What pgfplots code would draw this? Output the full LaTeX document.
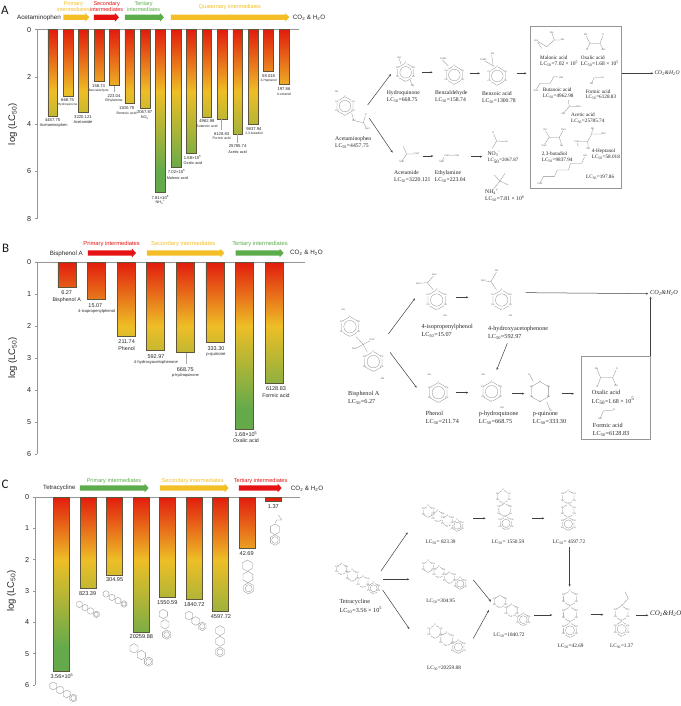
\documentclass[border=0pt]{standalone}
\usepackage{fontspec}
\usepackage{pgfplots}
\pgfplotsset{compat=1.18}
\usetikzlibrary{arrows.meta}
\setmainfont{Liberation Sans}
\newfontfamily\tm{Liberation Serif}
\newfontfamily\cb{Carlito}
\definecolor{barR}{RGB}{226,28,14}
\definecolor{barY}{RGB}{238,190,38}
\definecolor{barG}{RGB}{100,170,75}
\definecolor{barEdge}{RGB}{95,85,60}
\definecolor{arrY}{RGB}{243,190,38}
\definecolor{arrR}{RGB}{228,18,18}
\definecolor{arrG}{RGB}{92,172,76}
\definecolor{axg}{RGB}{150,150,150}
\definecolor{molg}{RGB}{140,140,140}
\newcommand\fs[1]{\fontsize{#1}{#1}\selectfont}
% gradient that depends on the value: red at 0, yellow at \vy, green at \vg
\newcommand\barshade[2]{%
  \pgfmathsetmacro\bpY{75-50*\vy/#2}%
  \pgfmathsetmacro\bpG{75-50*\vg/#2}%
  \ifdim#2pt<\vy pt
    \pgfmathsetmacro\bt{100*#2/\vy}%
    \edef\tmpS{\noexpand\pgfdeclareverticalshading{bar#1}{100bp}{color(0bp)=(barY!\bt!barR);color(25bp)=(barY!\bt!barR);color(75bp)=(barR);color(100bp)=(barR)}}%
  \else\ifdim#2pt<\vg pt
    \pgfmathsetmacro\bt{100*(#2-\vy)/(\vg-\vy)}%
    \edef\tmpS{\noexpand\pgfdeclareverticalshading{bar#1}{100bp}{color(0bp)=(barG!\bt!barY);color(25bp)=(barG!\bt!barY);color(\bpY bp)=(barY);color(75bp)=(barR);color(100bp)=(barR)}}%
  \else
    \edef\tmpS{\noexpand\pgfdeclareverticalshading{bar#1}{100bp}{color(0bp)=(barG);color(25bp)=(barG);color(\bpG bp)=(barG);color(\bpY bp)=(barY);color(75bp)=(barR);color(100bp)=(barR)}}%
  \fi\fi
  \tmpS}
\newcommand\pbar[3]{\barshade{#1#2}{#3}\addplot[ybar,bar shift=0pt,draw=barEdge,line width=.65pt,shade,shading=bar#1#2] coordinates {(#2,#3)};}
\pgfplotsset{lcax/.style={
  scale only axis, anchor=north west, clip=false,
  y dir=reverse, ymin=0,
  axis x line*=top, axis y line*=left,
  x axis line style={-,axg,line width=.9pt},
  y axis line style={-,axg,line width=.9pt},
  xtick=\empty, tick align=outside, major tick length=2.6pt,
  tick style={axg,line width=.7pt},
  /pgf/number format/assume math mode=true,
  yticklabel style={font=\fs{7.2},text=black!85},
  ylabel style={font=\fs{9.5},text=black!85,anchor=center},
  ylabel={log (LC\textsubscript{50})},
}}
% text in zoom coordinates
\newcommand\tx[5]{\node[anchor=#3,inner sep=0pt,text=black!85,font=\fs{#4}] at (#1,#2) {#5};}
\newcommand\tr[5]{\node[anchor=#3,inner sep=0pt,text=black!85,font=\tm\fs{#4}] at (#1,#2) {#5};}
\newcommand\tn[3]{\node[fill=white,inner sep=.1pt,text=black!70,font=\fs{2.3}] at (#1,#2) {#3};}
\newcommand\lc[1]{LC\textsubscript{50}=#1}
\newcommand\cotwo[4]{\node[anchor=west,inner sep=0pt,text=black!85,font=\tm\itshape\fs{#3}] at (#1,#2) {CO\textsubscript{2}\&H\textsubscript{2}O};}
\newcommand\barrow[4]{\fill[#4] (#1,#3-8)--(#2-12,#3-8)--(#2-12,#3-13)--(#2,#3)--(#2-12,#3+13)--(#2-12,#3+8)--(#1,#3+8)--cycle;}
\tikzset{mol/.style={draw=molg,line width=.3pt},
  ar/.style={draw=black!75,line width=.5pt,-{Stealth[length=2.4pt,width=2pt]}},
  lead/.style={draw=black!35,line width=.35pt}}
\newcommand\hex[3]{\begin{scope}[shift={(#1,#2)}]\draw[mol] (30:#3)--(90:#3)--(150:#3)--(210:#3)--(270:#3)--(330:#3)--cycle;\end{scope}}
\newcommand\vlabels[3]{\begin{scope}[shift={(#1,#2)}]
 \foreach \a/\t in {30/CH,90/C,150/CH,210/CH,270/C,330/CH}{\node[fill=white,inner sep=.1pt,text=black!70,font=\fs{2.1}] at (\a:#3) {\t};}\end{scope}}
\newcommand\ringc[3]{\hex{#1}{#2}{#3}\begin{scope}[shift={(#1,#2)}]\draw[mol] (0,0) circle (0.62*#3);\end{scope}}
% ring with small atom labels
\newcommand\ringl[3]{\ringc{#1}{#2}{#3}\vlabels{#1}{#2}{#3}}
\newcommand\chain[6]{\foreach \i in {1,...,#5}{\pgfmathsetmacro\cx{#1+(\i-1)*#3}\pgfmathsetmacro\cy{#2+(\i-1)*#4}\hex{\cx}{\cy}{#6}}
 \pgfmathsetmacro\cx{#1+(#5-1)*#3}\pgfmathsetmacro\cy{#2+(#5-1)*#4}\begin{scope}[shift={(\cx,\cy)}]\draw[mol] (0,0) circle (0.62*#6);\end{scope}}
\newcommand\chainl[6]{\chain{#1}{#2}{#3}{#4}{#5}{#6}\foreach \i in {1,...,#5}{\pgfmathsetmacro\cx{#1+(\i-1)*#3}\pgfmathsetmacro\cy{#2+(\i-1)*#4}\vlabels{\cx}{\cy}{#6}}}
\begin{document}
\begin{tikzpicture}
\useasboundingbox (0pt,0pt) rectangle (680pt,-706pt);
%% ============ PANEL A
\def\vy{2.6}\def\vg{6.0}
\begin{axis}[lcax,at={(37.3pt,-29.7pt)},width=261.7pt,height=189pt,ymax=8,xmin=-1,xmax=15.97,
  ytick={0,2,4,6,8},bar width=9.7pt,
  ylabel style={at={(axis description cs:-0.094,0.5)}}]
\pbar{A}{0}{3.649}
\pbar{A}{1}{2.825}
\pbar{A}{2}{3.508}
\pbar{A}{3}{2.201}
\pbar{A}{4}{2.348}
\pbar{A}{5}{3.114}
\pbar{A}{6}{3.316}
\pbar{A}{7}{6.893}
\pbar{A}{8}{5.846}
\pbar{A}{9}{5.225}
\pbar{A}{10}{3.696}
\pbar{A}{11}{3.787}
\pbar{A}{12}{4.411}
\pbar{A}{13}{3.993}
\pbar{A}{14}{1.764}
\pbar{A}{15}{2.296}
\end{axis}
\begin{scope}[x=.3333pt,y=-.3333pt]
\node[anchor=center,inner sep=0pt,text=black!90,font=\cb\fs{13}] at (15,32) {A};
\tx{117}{53}{center}{6.3}{Acetaminophen}
\tx{878}{53}{west}{6.3}{CO\textsubscript{2} \& H\textsubscript{2}O}
\barrow{190}{268}{52}{arrY}
\barrow{282}{357}{52}{arrR}
\barrow{375}{492}{52}{arrG}
\barrow{513}{868}{52}{arrY}
\node[align=center,inner sep=0pt,text=arrY,font=\fs{5.5}] at (220,20) {Primary\\[1pt]intermediates};
\node[align=center,inner sep=0pt,text=arrR,font=\fs{5.5}] at (320,20) {Secondary\\[1pt]intermediates};
\node[align=center,inner sep=0pt,text=arrG,font=\fs{5.5}] at (431,20) {Tertiary\\[1pt]intermediates};
\node[align=center,inner sep=0pt,text=arrY,font=\fs{5.5}] at (690,22) {Quaternary intermediates};
\draw[lead] (342,258)--(342,275);\draw[lead] (665,358)--(665,390);\draw[lead] (713,402)--(713,428);
\tx{158}{360}{center}{4.2}{4457.75}\tx{161}{376}{center}{4}{Acetaminophen}
\tx{203}{301}{center}{4.2}{668.75}\tx{203}{315}{center}{3.1}{Hydroquinone}
\tx{249}{350}{center}{4.2}{3220.121}\tx{249}{367}{center}{4}{Acetamide}
\tx{296}{259}{center}{4.2}{158.74}\tx{296}{272}{center}{3.1}{Benzaldehyde}
\tx{342}{288}{center}{4.2}{223.04}\tx{342}{302}{center}{3.5}{Ethylamine}
\tx{380}{325}{center}{4.2}{1300.78}\tx{380}{340}{center}{3.5}{Benzoic acid}
\tx{434}{336}{center}{4.2}{2067.87}\tx{436}{354}{center}{3.8}{NO\textsubscript{3}\textsuperscript{-}}
\tx{481}{592}{center}{4.2}{7.81×10\textsuperscript{6}}\tx{481}{608}{center}{3.8}{NH\textsubscript{4}\textsuperscript{+}}
\tx{530}{516}{center}{4.2}{7.02×10\textsuperscript{5}}\tx{532}{533}{center}{3.8}{Malonic acid}
\tx{578}{473}{center}{4.2}{1.68×10\textsuperscript{5}}\tx{579}{488}{center}{3.8}{Oxalic acid}
\tx{621}{364}{center}{4.2}{4962.98}\tx{621}{380}{center}{3.5}{Butanoic acid}
\tx{665}{401}{center}{4.2}{6128.83}\tx{665}{416}{center}{3.5}{Formic acid}
\tx{713}{439}{center}{4.2}{25785.74}\tx{713}{455}{center}{3.8}{Acetic acid}
\tx{762}{387}{center}{4.2}{9837.94}\tx{762}{400}{center}{3.3}{2,3-butadiol}
\tx{806}{228}{center}{4.2}{58.018}\tx{806}{242}{center}{3.3}{4-Heptanol}
\tx{852}{266}{center}{4.2}{197.86}\tx{852}{282}{center}{3.5}{4-octanol}
\end{scope}
\begin{scope}[x=.3333pt,y=-.3333pt,xshift=320pt]
\ringl{75}{318}{28}\draw[mol] (95,340)--(102,362)--(130,368)--(137,345) (130,368)--(140,385);
\tn{50}{275}{OH}\tn{102}{362}{NH}\tn{137}{345}{O}\tn{142}{385}{CH3}
\ringl{257}{217}{28}\tn{237}{172}{OH}\tn{278}{258}{OH}\draw[mol] (243,192)--(237,175) (270,240)--(277,255);
\ringl{403}{225}{28}\draw[mol] (385,198)--(365,178);\tn{370}{177}{CH3O}
\ringl{532}{228}{28}\draw[mol] (520,200)--(515,165) (520,198)--(490,180);\tn{518}{160}{OH}\tn{490}{180}{CH3O}
\draw[ar] (143,315)--(213,222);\draw[ar] (148,355)--(218,458);
\draw[ar] (305,217)--(338,217);\draw[ar] (450,220)--(480,220);\draw[ar] (590,220)--(620,220);
\draw[ar] (308,468)--(340,468);\draw[ar] (453,470)--(487,470);
\draw[ar] (903,220)--(1000,220);
\draw[axg,line width=.6pt] (632,80) rectangle (903,565);
\cotwo{1003}{220}{5.6}{}
\tr{45}{418}{west}{5.7}{Acetaminophen}\tr{45}{437}{west}{5.7}{\lc{4457.75}}
\tr{200}{279}{west}{5.7}{Hydroquinone}\tr{200}{300}{west}{5.7}{\lc{668.75}}
\tr{345}{279}{west}{5.7}{Benzaldehyde}\tr{345}{300}{west}{5.7}{\lc{158.74}}
\tr{486}{281}{west}{5.7}{Benzoic acid}\tr{486}{302}{west}{5.7}{\lc{1300.78}}
\tr{222}{518}{west}{5.7}{Acetamide}\tr{222}{539}{west}{5.7}{\lc{3220.121}}
\tr{344}{518}{west}{5.7}{Ethylamine}\tr{344}{539}{west}{5.7}{\lc{223.04}}
\tr{502}{461}{west}{5.7}{NO\textsubscript{3}\textsuperscript{-}}\tr{502}{482}{west}{5}{\lc{2067.87}}
\tr{495}{575}{west}{5.7}{NH\textsubscript{4}\textsuperscript{+}}\tr{495}{596}{west}{5.7}{\lc{7.81 × 10\textsuperscript{6}}}
\draw[mol] (250,440)--(260,462)--(285,462) (260,462)--(245,485);\tn{290}{462}{CH3}\tn{245}{486}{NH2}
\draw[mol] (365,485)--(375,467)--(410,467);\tn{380}{467}{CH2}\tn{410}{467}{CH3}\tn{365}{486}{NH2}
\draw[mol] (520,400)--(530,423)--(560,425) (530,423)--(517,445);\tn{520}{398}{O}\tn{560}{425}{O}
\draw[mol] (523,525)--(540,543)--(555,520) (540,543)--(520,568) (540,543)--(565,555);
\tr{660}{172}{west}{5.2}{Malonic acid}\tr{660}{192}{west}{5.5}{\lc{7.02 × 10\textsuperscript{5}}}
\tr{782}{172}{west}{5.2}{Oxalic acid}\tr{782}{192}{west}{5.5}{\lc{1.68 × 10\textsuperscript{5}}}
\tr{668}{269}{west}{5.2}{Butanoic acid}\tr{668}{288}{west}{5.2}{\lc{4962.98}}
\tr{796}{275}{west}{5.2}{Formic acid}\tr{796}{293}{west}{5.2}{\lc{6128.83}}
\tr{753}{345}{west}{5.2}{Acetic acid}\tr{753}{364}{west}{5.2}{\lc{25785.74}}
\tr{665}{461}{west}{5.2}{2,3-butadiol}\tr{665}{480}{west}{5.2}{\lc{9837.94}}
\tr{815}{454}{west}{5.2}{4-Heptanol}\tr{815}{472}{west}{5.2}{\lc{58.018}}
\tr{798}{531}{west}{5.2}{\lc{197.86}}
\draw[mol] (695,97)--(703,120)--(728,120) (703,120)--(680,140)--(650,122)--(665,145);\tn{695}{97}{OH}\tn{728}{120}{OH}\tn{648}{122}{OH}
\draw[mol] (797,105)--(810,130)--(840,130)--(850,105) (810,130)--(800,150) (840,130)--(850,150);\tn{797}{104}{OH}\tn{850}{104}{O}\tn{800}{150}{O}\tn{850}{150}{OH}
\draw[mol] (648,270)--(660,250)--(690,250)--(702,230)--(725,232);\tn{648}{271}{CH3}\tn{725}{232}{OH}
\draw[mol] (815,250)--(822,233)--(848,233);\tn{848}{233}{O}\tn{815}{251}{OH}
\draw[mol] (745,300)--(748,320)--(775,320) (748,320)--(730,340);\tn{775}{320}{CH3}\tn{730}{341}{OH}
\draw[mol] (675,390)--(688,412)--(718,412)--(730,390) (688,412)--(672,435) (718,412)--(725,435);\tn{675}{390}{OH}\tn{730}{390}{CH3}\tn{672}{436}{CH3}\tn{725}{436}{OH}
\draw[mol] (818,385)--(815,402)--(850,402) (815,402)--(803,425)--(770,425)--(775,440) (803,425)--(805,445);\tn{818}{385}{OH}\tn{850}{402}{CH3}\tn{770}{426}{CH3}\tn{805}{446}{OH}
\draw[mol] (660,550)--(670,530)--(703,530)--(712,510)--(745,510)--(752,490)--(785,490)--(795,468);\tn{660}{551}{CH3}\tn{795}{468}{OH}
\end{scope}
%% ============ PANEL B
\def\vy{2.0}\def\vg{4.6}
\begin{axis}[lcax,at={(37.3pt,-262pt)},width=267.7pt,height=192pt,ymax=6,xmin=-1,xmax=8.04,
  ytick={0,1,2,3,4,5,6},bar width=18pt,
  ylabel style={at={(axis description cs:-0.092,0.5)}}]
\pbar{B}{0}{0.797}
\pbar{B}{1}{1.178}
\pbar{B}{2}{2.326}
\pbar{B}{3}{2.773}
\pbar{B}{4}{2.825}
\pbar{B}{5}{2.523}
\pbar{B}{6}{5.225}
\pbar{B}{7}{3.787}
\end{axis}
\begin{scope}[x=.3333pt,y=-.3333pt,yshift=-235pt]
\node[anchor=center,inner sep=0pt,text=black!90,font=\cb\fs{13}] at (17,40) {B};
\tx{199}{57}{center}{6.2}{Bisphenol A}
\tx{870}{52}{west}{6.3}{CO\textsubscript{2} \& H\textsubscript{2}O}
\barrow{264}{408}{54}{arrR}
\barrow{441}{673}{54}{arrY}
\barrow{707}{851}{54}{arrG}
\node[inner sep=0pt,text=arrR,font=\fs{5.8}] at (335,26) {Primary intermediates};
\node[inner sep=0pt,text=arrY,font=\fs{5.8}] at (550,26) {Secondary intermediates};
\node[inner sep=0pt,text=arrG,font=\fs{5.8}] at (780,26) {Tertiary intermediates};
\draw[lead] (558,355)--(558,388);
\tx{200}{173}{center}{5.5}{6.27}\tx{200}{195}{center}{5.3}{Bisphenol A}
\tx{286}{211}{center}{5.5}{15.07}\tx{290}{228}{center}{4.1}{4-isopropenylphenol}
\tx{380}{320}{center}{5.5}{211.74}\tx{380}{341}{center}{5.3}{Phenol}
\tx{468}{365}{center}{5.5}{592.97}\tx{468}{381}{center}{4.1}{4-hydroxyacetophenone}
\tx{556}{403}{center}{5.5}{668.75}\tx{556}{422}{center}{3.9}{p-hydroquinone}
\tx{648}{340}{center}{5.5}{333.30}\tx{648}{358}{center}{4.3}{p-quinone}
\tx{738}{598}{center}{5.5}{1.68×10\textsuperscript{5}}\tx{738}{618}{center}{5.3}{Oxalic acid}
\tx{828}{461}{center}{5.5}{6128.83}\tx{828}{481}{center}{5.3}{Formic acid}
\end{scope}
\begin{scope}[x=.3333pt,y=-.3333pt,xshift=320pt,yshift=-235pt]
\ringl{90}{275}{30}\ringl{160}{380}{30}\tn{70}{225}{OH}\tn{188}{430}{OH}
\draw[mol] (108,305)--(130,328)--(142,352) (130,328)--(155,315) (130,328)--(105,342);\tn{156}{314}{CH3}\tn{103}{342}{CH3}
\ringl{350}{195}{30}\draw[mol] (340,165)--(322,143)--(295,145) (322,143)--(343,120);\tn{295}{145}{CH3}\tn{343}{119}{CH2}\tn{375}{243}{OH}
\ringl{545}{195}{30}\draw[mol] (530,165)--(513,140)--(485,137) (513,140)--(530,110);\tn{490}{137}{CH3}\tn{530}{108}{OH}\tn{572}{243}{OH}
\ringl{355}{473}{30}\ringl{515}{470}{30}\vlabels{660}{470}{30}\hex{660}{470}{30}\tn{328}{420}{OH}\tn{490}{418}{OH}\tn{546}{518}{OH}
\draw[mol] (640,440)--(630,420) (680,500)--(690,525);\tn{628}{418}{O}\tn{692}{527}{O}
\draw[mol] (830,400)--(842,428)--(878,428)--(890,402) (842,428)--(832,455) (878,428)--(888,452);\tn{830}{400}{OH}\tn{890}{402}{O}\tn{832}{456}{O}\tn{888}{453}{OH}
\draw[mol] (840,552)--(850,528)--(882,525);\tn{840}{552}{OH}\tn{882}{525}{O}
\draw[ar] (205,297)--(285,190);\draw[ar] (210,352)--(290,458);
\draw[ar] (408,187)--(445,187);\draw[ar] (617,173)--(985,176);
\draw[ar] (562,325)--(530,405);\draw[ar] (992,365)--(992,185);
\draw[ar] (408,473)--(445,473);\draw[ar] (577,476)--(613,476);\draw[ar] (727,476)--(762,476);
\draw[axg,line width=.6pt] (785,365) rectangle (992,612);
\cotwo{990}{173}{6.2}{}
\tr{84}{476}{west}{6.2}{Bisphenol A}\tr{84}{500}{west}{6.2}{\lc{6.27}}
\tr{304}{277}{west}{6.2}{4-isopropenylphenol}\tr{304}{300}{west}{6.2}{\lc{15.07}}
\tr{504}{282}{west}{6.2}{4-hydroxyacetophenone}\tr{504}{305}{west}{6.2}{\lc{592.97}}
\tr{317}{536}{west}{6.2}{Phenol}\tr{317}{560}{west}{6.2}{\lc{211.74}}
\tr{476}{536}{west}{6.2}{p-hydroquinone}\tr{476}{560}{west}{6.2}{\lc{668.75}}
\tr{638}{537}{west}{6.2}{p-quinone}\tr{638}{560}{west}{6.2}{\lc{333.30}}
\tr{815}{473}{west}{6.2}{Oxalic acid}\tr{815}{498}{west}{6}{\lc{1.68 × 10\textsuperscript{5}}}
\tr{818}{571}{west}{6.2}{Formic acid}\tr{818}{596}{west}{6.2}{\lc{6128.83}}
\end{scope}
%% ============ PANEL C
\def\vy{2.0}\def\vg{4.8}
\begin{axis}[lcax,at={(35.3pt,-497pt)},width=264.7pt,height=188pt,ymax=6,xmin=-1,xmax=9,
  ytick={0,1,2,3,4,5,6},bar width=16pt,
  ylabel style={at={(axis description cs:-0.09,0.5)}}]
\pbar{C}{0}{5.551}
\pbar{C}{1}{2.916}
\pbar{C}{2}{2.484}
\pbar{C}{3}{4.307}
\pbar{C}{4}{3.190}
\pbar{C}{5}{3.265}
\pbar{C}{6}{3.663}
\pbar{C}{7}{1.630}
\pbar{C}{8}{0.137}
\end{axis}
\begin{scope}[x=.3333pt,y=-.3333pt,yshift=-470pt]
\node[anchor=center,inner sep=0pt,text=black!90,font=\cb\fs{13}] at (15,44) {C};
\tx{178}{55}{center}{6.1}{Tetracycline}
\tx{872}{56}{west}{6.3}{CO\textsubscript{2} \& H\textsubscript{2}O}
\barrow{240}{446}{54}{arrG}
\barrow{480}{686}{54}{arrY}
\barrow{717}{845}{54}{arrR}
\node[inner sep=0pt,text=arrG,font=\fs{5.6}] at (342,32) {Primary intermediates};
\node[inner sep=0pt,text=arrY,font=\fs{5.6}] at (578,32) {Secondary intermediates};
\node[inner sep=0pt,text=arrR,font=\fs{5.6}] at (782,32) {Tertiary intermediates};
\tx{186}{618}{center}{5.5}{3.56×10\textsuperscript{5}}
\tx{263}{371}{center}{5.6}{823.39}
\tx{344}{330}{center}{5.6}{304.95}
\tx{424}{501}{center}{5.6}{20259.88}
\tx{502}{397}{center}{5.6}{1550.59}
\tx{583}{404}{center}{5.6}{1840.72}
\tx{663}{441}{center}{5.6}{4597.72}
\tx{740}{250}{center}{5.6}{42.69}
\tx{820}{111}{center}{5.6}{1.37}
\chain{160}{648}{20}{12}{4}{12}
\chain{238}{403}{17}{10}{4}{10}
\chain{318}{372}{18}{10}{4}{10}
\chain{402}{535}{22}{20}{3}{14}
\chain{490}{432}{5}{31}{3}{14}
\chain{567}{437}{20}{16}{3}{13}
\chain{660}{482}{0}{32}{3}{15}
\chain{742}{287}{2}{34}{3}{17}
\chain{825}{178}{0}{32}{2}{16}
\draw[mol] (825,160)--(830,150)--(845,150)--(835,135);
\end{scope}
\begin{scope}[x=.3333pt,y=-.3333pt,xshift=320pt,yshift=-470pt]
\chainl{65}{298}{32}{19}{4}{17}
\chainl{325}{125}{29}{14}{4}{17}
\chainl{550}{80}{4}{40}{3}{20}
\chainl{745}{82}{0}{40}{3}{20}
\chainl{325}{290}{32}{17}{4}{17}
\chainl{345}{485}{35}{23}{3}{20}
\chainl{540}{395}{35}{27}{3}{19}
\chainl{750}{385}{0}{48}{3}{22}
\chainl{905}{430}{0}{47}{2}{22}
\draw[mol] (905,408)--(925,385)--(915,365);
\draw[ar] (183,303)--(263,187);\draw[ar] (190,328)--(268,328);\draw[ar] (188,360)--(268,477);
\draw[ar] (460,145)--(497,145);\draw[ar] (637,145)--(673,145);\draw[ar] (749,232)--(749,350);
\draw[ar] (460,330)--(513,395);\draw[ar] (460,505)--(507,420);
\draw[ar] (642,435)--(697,435);\draw[ar] (813,434)--(850,434);\draw[ar] (948,436)--(985,436);
\cotwo{990}{431}{7}{}
\tr{58}{395}{west}{6.2}{Tetracycline}\tr{58}{420}{west}{6.2}{\lc{3.56 × 10\textsuperscript{5}}}
\tr{362}{218}{center}{5.3}{LC\textsubscript{50}= 823.39}
\tr{564}{218}{center}{5.3}{LC\textsubscript{50}= 1550.59}
\tr{747}{218}{center}{5.3}{LC\textsubscript{50}= 4597.72}
\tr{362}{395}{center}{5.3}{\lc{304.95}}
\tr{372}{595}{center}{5.3}{\lc{20259.88}}
\tr{567}{497}{center}{5.3}{\lc{1840.72}}
\tr{752}{529}{center}{5.3}{\lc{42.69}}
\tr{905}{529}{center}{5.3}{\lc{1.37}}
\end{scope}
\end{tikzpicture}
\end{document}
